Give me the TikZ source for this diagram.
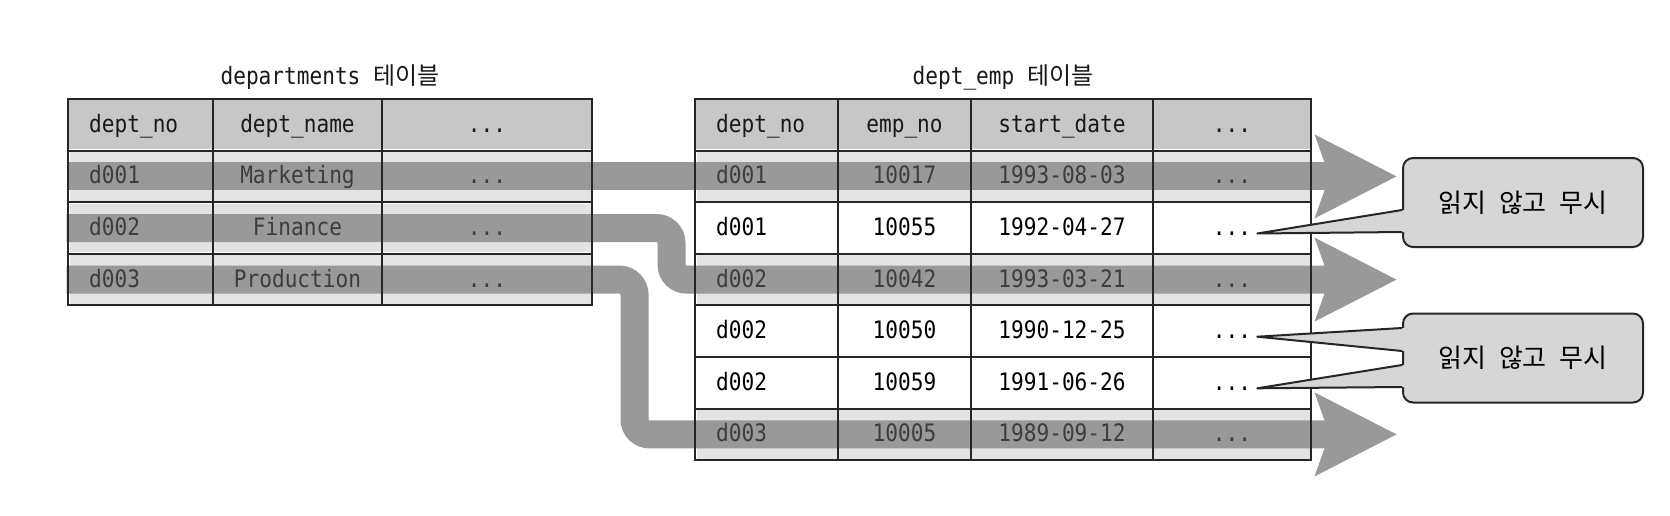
\documentclass[tikz,border=0pt]{standalone}
\usepackage{fontspec}
\usepackage{tikz}
\usetikzlibrary{positioning,calc,arrows.meta,backgrounds}

\newfontfamily\tblfont[FakeStretch=0.88]{DejaVu Sans Mono}
\newfontfamily\kofont[WordSpace=2.2]{Noto Sans CJK KR}

\begin{document}
\begin{tikzpicture}[x=1pt, y=-1pt,
    cell/.style={font=\tblfont\fontsize{24}{28}\selectfont, text height=18pt, text depth=3pt, inner sep=0pt},
    hdrtxt/.style={cell, text=black!90},
    readtxt/.style={cell, text=black!76},
    plaintxt/.style={cell, text=black},
    hdrrow/.style={fill=black!22, inner sep=0pt, minimum height=51.6pt},
    readrow/.style={fill=black!11, draw=white, line width=3pt, inner sep=0pt, minimum height=51.6pt},
    plainrow/.style={inner sep=0pt, minimum height=51.6pt},
    grid/.style={line width=2pt, black!85},
    band/.style={line width=28pt, black!40, rounded corners=15pt,
        -{Stealth[length=82pt, width=84pt, inset=15pt, line width=0pt]}},
    bubble/.style={draw=black!85, line width=2pt, fill=black!16, rounded corners=10pt,
        minimum width=240pt, minimum height=89pt, inner sep=0pt,
        font=\kofont\fontsize{26}{30}\selectfont},
    pointer/.style={line width=2pt, black!85, line join=round}
]
    \useasboundingbox (0,0) rectangle (1670,516);

    \begin{scope}[on background layer]
    \fill[white] (0,0) rectangle (1670,516);

    % departments rows
    \node[hdrrow, minimum width=524pt] (depH) at (330,124.8) {};
    \node[readrow, minimum width=524pt] (dep1) at (330,176.4) {};
    \node[readrow, minimum width=524pt] (dep2) at (330,228) {};
    \node[readrow, minimum width=524pt] (dep3) at (330,279.6) {};

    % dept_emp rows
    \node[hdrrow, minimum width=616pt] (empH) at (1003,124.8) {};
    \node[readrow, minimum width=616pt] (emp1) at (1003,176.4) {};
    \node[plainrow, minimum width=616pt] (emp2) at (1003,228) {};
    \node[readrow, minimum width=616pt] (emp3) at (1003,279.6) {};
    \node[plainrow, minimum width=616pt] (emp4) at (1003,331.2) {};
    \node[plainrow, minimum width=616pt] (emp5) at (1003,382.8) {};
    \node[readrow, minimum width=616pt] (emp6) at (1003,434.4) {};

    % read paths from each department into dept_emp
    \draw[band] (dep1.west) -- ([xshift=84pt]emp1.east);
    \draw[band] (dep2.west) -| ([xshift=-22pt]emp3.west) -- ([xshift=84pt]emp3.east);
    \draw[band] (dep3.west) -| ([xshift=-59pt]emp6.west) -- ([xshift=84pt]emp6.east);
    \end{scope}

    % departments grid
    \draw[grid] (68,99) rectangle (592,305.4);
    \draw[grid] (68,150.6) -- (592,150.6) (68,202.2) -- (592,202.2) (68,253.8) -- (592,253.8);
    \draw[grid] (213,99) -- (213,305.4) (382,99) -- (382,305.4);

    % dept_emp grid
    \draw[grid] (695,99) rectangle (1311,460.2);
    \draw[grid] (695,150.6) -- (1311,150.6) (695,202.2) -- (1311,202.2) (695,253.8) -- (1311,253.8)
                (695,305.4) -- (1311,305.4) (695,357) -- (1311,357) (695,408.6) -- (1311,408.6);
    \draw[grid] (838,99) -- (838,460.2) (971,99) -- (971,460.2) (1153,99) -- (1153,460.2);

    % titles
    \node[hdrtxt, above=11pt of depH] (depTitle) {departments {\kofont\fontsize{24}{28}\selectfont 테이블}};
    \node[hdrtxt, above=11pt of empH] (empTitle) {dept\_emp {\kofont\fontsize{24}{28}\selectfont 테이블}};

    % departments cells
    \node[hdrtxt, anchor=west] (depNoH) at (89,124.8) {dept\_no};
    \node[hdrtxt] (depNameH) at (297.5,124.8) {dept\_name};
    \node[hdrtxt] (depEtcH) at (487,124.8) {...};
    \node[readtxt, anchor=west] (depNo1) at (89,176.4) {d001};
    \node[readtxt] (depName1) at (297.5,176.4) {Marketing};
    \node[readtxt] (depEtc1) at (487,176.4) {...};
    \node[readtxt, anchor=west] (depNo2) at (89,228) {d002};
    \node[readtxt] (depName2) at (297.5,228) {Finance};
    \node[readtxt] (depEtc2) at (487,228) {...};
    \node[readtxt, anchor=west] (depNo3) at (89,279.6) {d003};
    \node[readtxt] (depName3) at (297.5,279.6) {Production};
    \node[readtxt] (depEtc3) at (487,279.6) {...};

    % dept_emp cells
    \node[hdrtxt, anchor=west] (empDeptH) at (716,124.8) {dept\_no};
    \node[hdrtxt] (empNoH) at (904.5,124.8) {emp\_no};
    \node[hdrtxt] (empDateH) at (1062,124.8) {start\_date};
    \node[hdrtxt] (empEtcH) at (1232,124.8) {...};
    \node[readtxt, anchor=west] (empDept1) at (716,176.4) {d001};
    \node[readtxt] (empNo1) at (904.5,176.4) {10017};
    \node[readtxt] (empDate1) at (1062,176.4) {1993-08-03};
    \node[readtxt] (empEtc1) at (1232,176.4) {...};
    \node[plaintxt, anchor=west] (empDept2) at (716,228) {d001};
    \node[plaintxt] (empNo2) at (904.5,228) {10055};
    \node[plaintxt] (empDate2) at (1062,228) {1992-04-27};
    \node[plaintxt] (empEtc2) at (1232,228) {...};
    \node[readtxt, anchor=west] (empDept3) at (716,279.6) {d002};
    \node[readtxt] (empNo3) at (904.5,279.6) {10042};
    \node[readtxt] (empDate3) at (1062,279.6) {1993-03-21};
    \node[readtxt] (empEtc3) at (1232,279.6) {...};
    \node[plaintxt, anchor=west] (empDept4) at (716,331.2) {d002};
    \node[plaintxt] (empNo4) at (904.5,331.2) {10050};
    \node[plaintxt] (empDate4) at (1062,331.2) {1990-12-25};
    \node[plaintxt] (empEtc4) at (1232,331.2) {...};
    \node[plaintxt, anchor=west] (empDept5) at (716,382.8) {d002};
    \node[plaintxt] (empNo5) at (904.5,382.8) {10059};
    \node[plaintxt] (empDate5) at (1062,382.8) {1991-06-26};
    \node[plaintxt] (empEtc5) at (1232,382.8) {...};
    \node[readtxt, anchor=west] (empDept6) at (716,434.4) {d003};
    \node[readtxt] (empNo6) at (904.5,434.4) {10005};
    \node[readtxt] (empDate6) at (1062,434.4) {1989-09-12};
    \node[readtxt] (empEtc6) at (1232,434.4) {...};

    % skipped rows callouts
    \node[bubble] (skip1) at (1523,202.5) {읽지 않고 무시};
    \node[bubble] (skip2) at (1523,358) {읽지 않고 무시};

    \coordinate (tip2) at ([xshift=6pt,yshift=2pt]empEtc2.base east);
    \coordinate (tip4) at ([xshift=6pt,yshift=2pt]empEtc4.base east);
    \coordinate (tip5) at ([xshift=6pt,yshift=2pt]empEtc5.base east);

    \fill[black!16] ($(skip1.west)+(3,7.5)$) -- (tip2) -- ($(skip1.west)+(3,29.5)$) -- cycle;
    \draw[pointer] ($(skip1.west)+(0,7.5)$) -- (tip2) -- ($(skip1.west)+(0,29.5)$);
    \fill[black!16] ($(skip2.west)+(3,-30)$) -- (tip4) -- ($(skip2.west)+(3,-7)$) -- cycle;
    \draw[pointer] ($(skip2.west)+(0,-30)$) -- (tip4) -- ($(skip2.west)+(0,-7)$);
    \fill[black!16] ($(skip2.west)+(3,7)$) -- (tip5) -- ($(skip2.west)+(3,29)$) -- cycle;
    \draw[pointer] ($(skip2.west)+(0,7)$) -- (tip5) -- ($(skip2.west)+(0,29)$);
\end{tikzpicture}
\end{document}
